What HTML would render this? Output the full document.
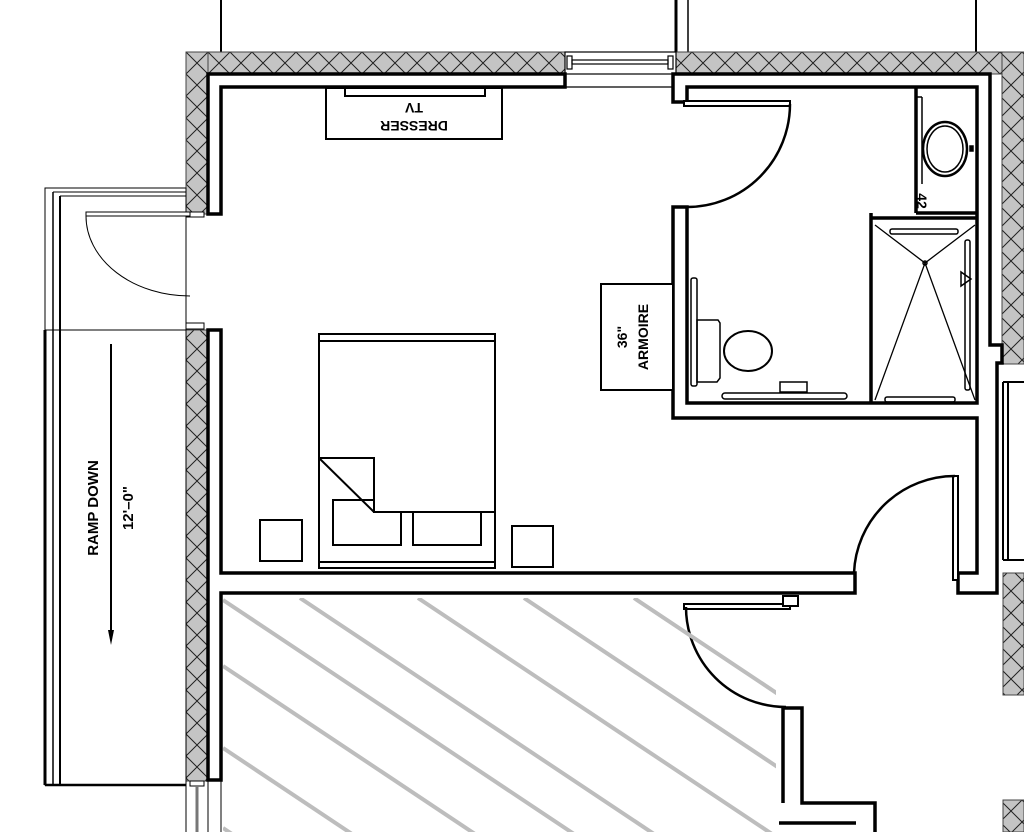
<!DOCTYPE html>
<html><head><meta charset="utf-8"><style>
html,body{margin:0;padding:0;background:#fff;width:1024px;height:832px;overflow:hidden}
svg{display:block;position:absolute;left:0;top:0}
text{font-family:"Liberation Sans",Arial,sans-serif;font-weight:bold;fill:#000}
</style></head><body>
<svg width="1024" height="832" viewBox="0 0 1024 832" xmlns="http://www.w3.org/2000/svg">
<defs>
<pattern id="h" x="186" y="52" width="22" height="22" patternUnits="userSpaceOnUse">
<rect width="22" height="22" fill="#c4c4c4"/>
<path d="M0 0L22 22M22 0L0 22" stroke="#222" stroke-width="1"/>
</pattern>
<clipPath id="hc"><rect x="223" y="598" width="553" height="234"/></clipPath>
</defs>

<!-- top lines above building -->
<line x1="221" y1="0" x2="221" y2="76" stroke="#000" stroke-width="2"/>
<line x1="676" y1="0" x2="676" y2="76" stroke="#000" stroke-width="3"/>
<line x1="688" y1="0" x2="688" y2="80" stroke="#000" stroke-width="1.5"/>
<line x1="976" y1="0" x2="976" y2="64" stroke="#000" stroke-width="2"/>

<!-- hatched exterior walls -->
<rect x="186" y="52" width="379" height="22" fill="url(#h)" stroke="#444" stroke-width="1"/>
<rect x="186" y="52" width="22" height="162" fill="url(#h)" stroke="#444" stroke-width="1"/>
<rect x="186" y="330" width="22" height="451" fill="url(#h)" stroke="#444" stroke-width="1"/>
<rect x="676" y="52" width="348" height="22" fill="url(#h)" stroke="#444" stroke-width="1"/>
<rect x="1002" y="52" width="22" height="312" fill="url(#h)" stroke="#444" stroke-width="1"/>
<rect x="1003" y="573" width="21" height="122" fill="url(#h)" stroke="#444" stroke-width="1"/>
<rect x="1003" y="800" width="21" height="32" fill="url(#h)" stroke="#444" stroke-width="1"/>

<!-- top window -->
<g stroke="#000" fill="none" stroke-width="1.2">
<rect x="565" y="52" width="111" height="22" fill="#fff"/>
<rect x="567" y="56" width="5" height="13" fill="#fff"/>
<rect x="668" y="56" width="5" height="13" fill="#fff"/>
<rect x="572" y="60" width="96" height="4"/>
<line x1="565" y1="87" x2="676" y2="87"/>
</g>

<!-- left door opening window frame -->
<g stroke="#000" fill="none" stroke-width="1">
<line x1="186" y1="214" x2="186" y2="330"/>
<rect x="186" y="212" width="18" height="5" fill="#fff"/>
<rect x="186" y="323" width="18" height="6" fill="#fff"/>
</g>

<!-- interior walls -->
<g stroke="#000" stroke-width="3.5" fill="#fff" stroke-linejoin="miter">
<path d="M208 74H565V87H221V214H208Z"/>
<path d="M208 330H221V573H855V593H221V780H208Z"/>
<path d="M687 102H673V74H990V345H1002V363H997V593H958V573H977V418H673V207H687V403H977V87H687V102"/>
<path d="M783 708H802V803H875V832" fill="none"/>
<path d="M783 708V803" fill="none"/>
</g>
<g stroke="#000" stroke-width="3.5" fill="none">
<line x1="916" y1="213" x2="977" y2="213"/>
<line x1="871" y1="218" x2="977" y2="218"/>
<line x1="871" y1="213" x2="871" y2="403"/>
<line x1="916" y1="87" x2="916" y2="213"/>
<line x1="779" y1="823" x2="856" y2="823"/>
</g>

<!-- doors -->
<g stroke="#000" fill="#fff" stroke-width="2">
<rect x="684" y="101" width="106" height="5"/>
<rect x="953" y="476" width="5" height="104"/>
<rect x="684" y="604" width="106" height="5"/>
<rect x="783" y="596" width="15" height="10"/>
</g>
<g fill="none" stroke="#000" stroke-width="2.5">
<path d="M790 104 A103 103 0 0 1 687 207"/>
<path d="M955 476 A101 101 0 0 0 854 573"/>
<path d="M686 607 A100 100 0 0 0 786 707"/>
</g>

<!-- right side window -->
<g stroke="#000" fill="none" stroke-width="2">
<line x1="1003" y1="382" x2="1003" y2="560"/>
<line x1="1008" y1="382" x2="1008" y2="560"/>
<line x1="1003" y1="382" x2="1024" y2="382"/>
<line x1="1003" y1="560" x2="1024" y2="560"/>
</g>

<!-- bathroom fixtures -->
<g stroke="#000" fill="none" stroke-width="1.5">
<line x1="917" y1="97" x2="922" y2="97"/><line x1="922" y1="97" x2="922" y2="184"/>
<ellipse cx="945" cy="149" rx="22" ry="27" stroke-width="2.5"/>
<ellipse cx="945" cy="149" rx="18" ry="23"/>
<rect x="970" y="146" width="3" height="5" fill="#000"/>
<path d="M875 225L925 263L975 225" stroke-width="1.3"/>
<path d="M875 400L925 263L975 400" stroke-width="1.3"/>
<circle cx="925" cy="263" r="2"/>
<rect x="890" y="229" width="68" height="5" rx="2"/>
<rect x="885" y="397" width="70" height="5" rx="2"/>
<rect x="965" y="240" width="5" height="150" rx="2"/>
<path d="M961 272L961 286L971 279Z"/>
<rect x="691" y="278" width="6" height="108" rx="2"/>
<path d="M697 320H718L720 323V378L717 382H697Z"/>
<ellipse cx="748" cy="351" rx="24" ry="20" stroke-width="2"/>
<rect x="722" y="393" width="125" height="6" rx="3"/>
<rect x="780" y="382" width="27" height="10"/>
</g>
<text transform="translate(922,201) rotate(90)" font-size="14" text-anchor="middle" dy="5">42</text>

<!-- armoire -->
<rect x="601" y="284" width="72" height="106" fill="#fff" stroke="#000" stroke-width="2"/>
<text transform="translate(622,337) rotate(-90)" font-size="14" text-anchor="middle" dy="5">36"</text>
<text transform="translate(643,337) rotate(-90)" font-size="14" text-anchor="middle" dy="5">ARMOIRE</text>

<!-- dresser -->
<rect x="326" y="88" width="176" height="51" fill="#fff" stroke="#000" stroke-width="2"/>
<rect x="345" y="88" width="140" height="8" fill="#fff" stroke="#000" stroke-width="2"/>
<text transform="translate(414,108) rotate(180)" font-size="14" text-anchor="middle" dy="5">TV</text>
<text transform="translate(414,126) rotate(180)" font-size="14" text-anchor="middle" dy="5">DRESSER</text>

<!-- bed -->
<g stroke="#000" fill="none" stroke-width="2">
<rect x="319" y="334" width="176" height="234"/>
<line x1="319" y1="341" x2="495" y2="341"/>
<line x1="319" y1="562" x2="495" y2="562"/>
<rect x="333" y="500" width="68" height="45"/>
<rect x="413" y="512" width="68" height="33"/>
<path d="M319 458H374V512H495" fill="#fff"/>
<line x1="319" y1="458" x2="374" y2="512"/>
<rect x="260" y="520" width="42" height="41"/>
<rect x="512" y="526" width="41" height="41"/>
</g>

<!-- ramp -->
<g stroke="#000" fill="none">
<rect x="45" y="188" width="141" height="597" stroke-width="1"/>
<line x1="45" y1="330" x2="45" y2="785" stroke-width="3"/>
<line x1="45" y1="785" x2="186" y2="785" stroke-width="2.5"/>
<line x1="53" y1="192" x2="53" y2="785" stroke-width="1.5"/>
<line x1="60" y1="196" x2="60" y2="785" stroke-width="2"/>
<line x1="53" y1="192" x2="186" y2="192" stroke-width="1"/>
<line x1="60" y1="196" x2="186" y2="196" stroke-width="1"/>
<line x1="45" y1="330" x2="186" y2="330" stroke-width="1"/>
<rect x="86" y="212" width="104" height="4" stroke-width="1" fill="#fff"/>
<path d="M86 216 A104 80 0 0 0 190 296" stroke-width="1"/>
<line x1="111" y1="344" x2="111" y2="635" stroke-width="2"/>
</g>
<path d="M108 630L111 645L114 630Z" fill="#000"/>
<text transform="translate(93,508) rotate(-90)" font-size="15" text-anchor="middle" dy="5">RAMP DOWN</text>
<text transform="translate(128,508) rotate(-90)" font-size="15" text-anchor="middle" dy="5">12'–0"</text>

<!-- bottom-left window -->
<g stroke="#000" fill="none" stroke-width="1">
<line x1="186" y1="781" x2="186" y2="832"/>
<line x1="208" y1="781" x2="208" y2="832"/>
<line x1="221" y1="781" x2="221" y2="832"/>
<rect x="190" y="781" width="14" height="5" fill="#fff"/>
<line x1="197" y1="786" x2="197" y2="832" stroke="#777" stroke-width="3"/>
</g>

<!-- gray hatch lines -->
<g clip-path="url(#hc)" stroke="#bdbdbd" stroke-width="4">
<line x1="223" y1="600" x2="823" y2="1000"/>
<line x1="300" y1="598" x2="900" y2="998"/>
<line x1="418" y1="598" x2="1018" y2="998"/>
<line x1="524" y1="598" x2="1124" y2="998"/>
<line x1="634" y1="598" x2="1234" y2="998"/>
<line x1="223" y1="666" x2="823" y2="1066"/>
<line x1="223" y1="748" x2="823" y2="1148"/>
<line x1="223" y1="828" x2="823" y2="1228"/>
</g>
</svg>
</body></html>
